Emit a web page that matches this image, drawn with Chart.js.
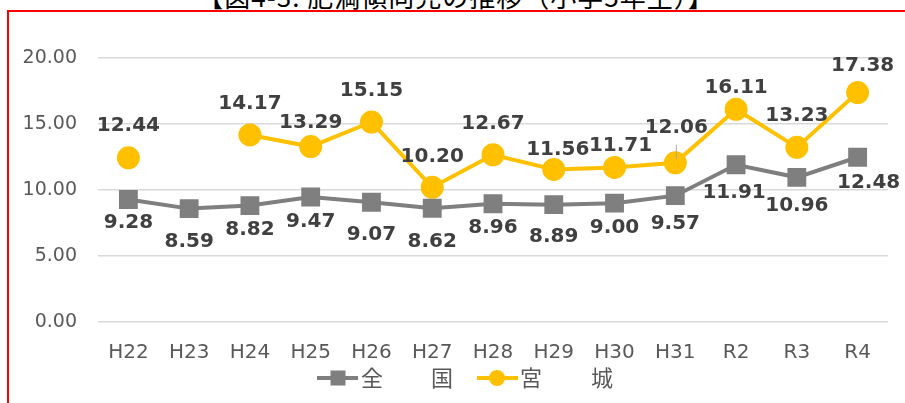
<!DOCTYPE html>
<html>
<head>
<meta charset="utf-8">
<script src="https://cdn.jsdelivr.net/npm/chart.js@4.4.1/dist/chart.umd.min.js"></script>
<style>
  body { margin: 0; background: #fff; width: 905px; height: 403px; overflow: hidden; position: relative; }
  #frame { position: absolute; left: 7px; top: 10px; width: 1000px; height: 500px; border: 2px solid #ff0000; box-sizing: border-box; }
  #title { position: absolute; left: 0; width: 912px; top: -17px; text-align: center; font: 26px/26px "Noto Sans CJK JP"; letter-spacing: 1px; color: #000; white-space: nowrap; }
  #chart { position: absolute; left: 0; top: 0; }
</style>
</head>
<body>
<div id="title">【図4-3. 肥満傾向児の推移（小学5年生）】</div>
<div id="frame"></div>
<canvas id="chart" width="905" height="403"></canvas>
<script>
const years = ['H22', 'H23', 'H24', 'H25', 'H26', 'H27', 'H28', 'H29', 'H30', 'H31', 'R2', 'R3', 'R4'];
const zenkoku = [9.28, 8.59, 8.82, 9.47, 9.07, 8.62, 8.96, 8.89, 9.00, 9.57, 11.91, 10.96, 12.48];
const miyagi = [12.44, null, 14.17, 13.29, 15.15, 10.20, 12.67, 11.56, 11.71, 12.06, 16.11, 13.23, 17.38];
const yTicks = [0, 5, 10, 15, 20];

// where Excel put each value label (nudge from the point)
const zenkokuNudge = [[0,23],[0,33],[0,24],[0,25],[0,33],[0,34],[0,24],[0,32],[0,25],[0,28],[-2,28],[0,28],[11,26]];
const miyagiNudge = [[0,-32],[0,0],[0,-31],[0,-24],[0,-31],[0,-31],[0,-31],[4,-20],[6,-22],[1,-35],[0,-22],[0,-32],[5,-27]];

const GRAY = '#7f7f7f';
const GOLD = '#ffc000';

const valueLabels = {
  id: 'valueLabels',
  afterDatasetsDraw(chart) {
    const ctx = chart.ctx;
    ctx.save();
    ctx.font = 'bold 20px "DejaVu Sans"';
    ctx.fillStyle = '#404040';
    ctx.textAlign = 'center';
    ctx.textBaseline = 'middle';
    chart.data.datasets.forEach((ds, i) => {
      const meta = chart.getDatasetMeta(i);
      const nudge = i === 0 ? zenkokuNudge : miyagiNudge;
      meta.data.forEach((pt, j) => {
        const v = ds.data[j];
        if (v === null) return;
        ctx.fillText(v.toFixed(2), pt.x + nudge[j][0], pt.y + nudge[j][1]);
      });
    });
    // small leader line at H31
    const p = chart.getDatasetMeta(1).data[9];
    ctx.strokeStyle = '#a6a6a6';
    ctx.lineWidth = 1;
    ctx.beginPath();
    ctx.moveTo(p.x + 1, p.y - 18);
    ctx.lineTo(p.x + 1, p.y - 4);
    ctx.stroke();
    ctx.restore();
  }
};

const bottomLegend = {
  id: 'bottomLegend',
  afterDraw(chart) {
    const ctx = chart.ctx;
    const y = 378;
    ctx.save();
    ctx.lineWidth = 4;
    // 全国
    ctx.strokeStyle = GRAY;
    ctx.beginPath(); ctx.moveTo(317, y); ctx.lineTo(358, y); ctx.stroke();
    ctx.fillStyle = GRAY;
    ctx.fillRect(338 - 7.5, y - 7.5, 15, 15);
    // 宮城
    ctx.strokeStyle = GOLD;
    ctx.beginPath(); ctx.moveTo(477, y); ctx.lineTo(518, y); ctx.stroke();
    ctx.fillStyle = GOLD;
    ctx.beginPath(); ctx.arc(497, y, 8, 0, Math.PI * 2); ctx.fill();
    ctx.font = '22px "Noto Sans CJK JP"';
    ctx.fillStyle = '#595959';
    ctx.textBaseline = 'middle';
    ctx.fillText('全', 361, y);
    ctx.fillText('国', 431, y);
    ctx.fillText('宮', 520, y);
    ctx.fillText('城', 591, y);
    ctx.restore();
  }
};

new Chart(document.getElementById('chart'), {
  type: 'line',
  data: {
    labels: years,
    datasets: [
      {
        label: '全　　国',
        data: zenkoku,
        borderColor: GRAY,
        backgroundColor: GRAY,
        borderWidth: 4,
        pointStyle: 'rect',
        pointRadius: 10.5,
        pointHoverRadius: 10.5,
        tension: 0
      },
      {
        label: '宮　　城',
        data: miyagi,
        borderColor: GOLD,
        backgroundColor: GOLD,
        borderWidth: 4,
        pointStyle: 'circle',
        pointRadius: 9.5,
        pointHoverRadius: 9.5,
        spanGaps: false,
        tension: 0
      }
    ]
  },
  options: {
    responsive: false,
    animation: false,
    layout: { padding: { top: 58, right: 17, left: 0, bottom: 0 } },
    plugins: {
      legend: { display: false },
      tooltip: { enabled: false }
    },
    scales: {
      x: {
        offset: true,
        grid: { display: false, drawTicks: false },
        border: { display: false },
        ticks: { color: '#595959', font: { family: 'DejaVu Sans', size: 20 }, padding: 19, maxRotation: 0 },
        afterFit(axis) { axis.height = 81; }
      },
      y: {
        min: 0,
        max: 20,
        afterBuildTicks(axis) { axis.ticks = yTicks.map(v => ({ value: v })); },
        grid: { color: '#d9d9d9', lineWidth: 1.5, drawTicks: false },
        border: { display: false },
        ticks: {
          color: '#595959',
          font: { family: 'DejaVu Sans', size: 19 },
          padding: 21,
          callback: v => v.toFixed(2)
        },
        afterFit(axis) { axis.width = 98; }
      }
    }
  },
  plugins: [valueLabels, bottomLegend]
});
</script>
</body>
</html>
